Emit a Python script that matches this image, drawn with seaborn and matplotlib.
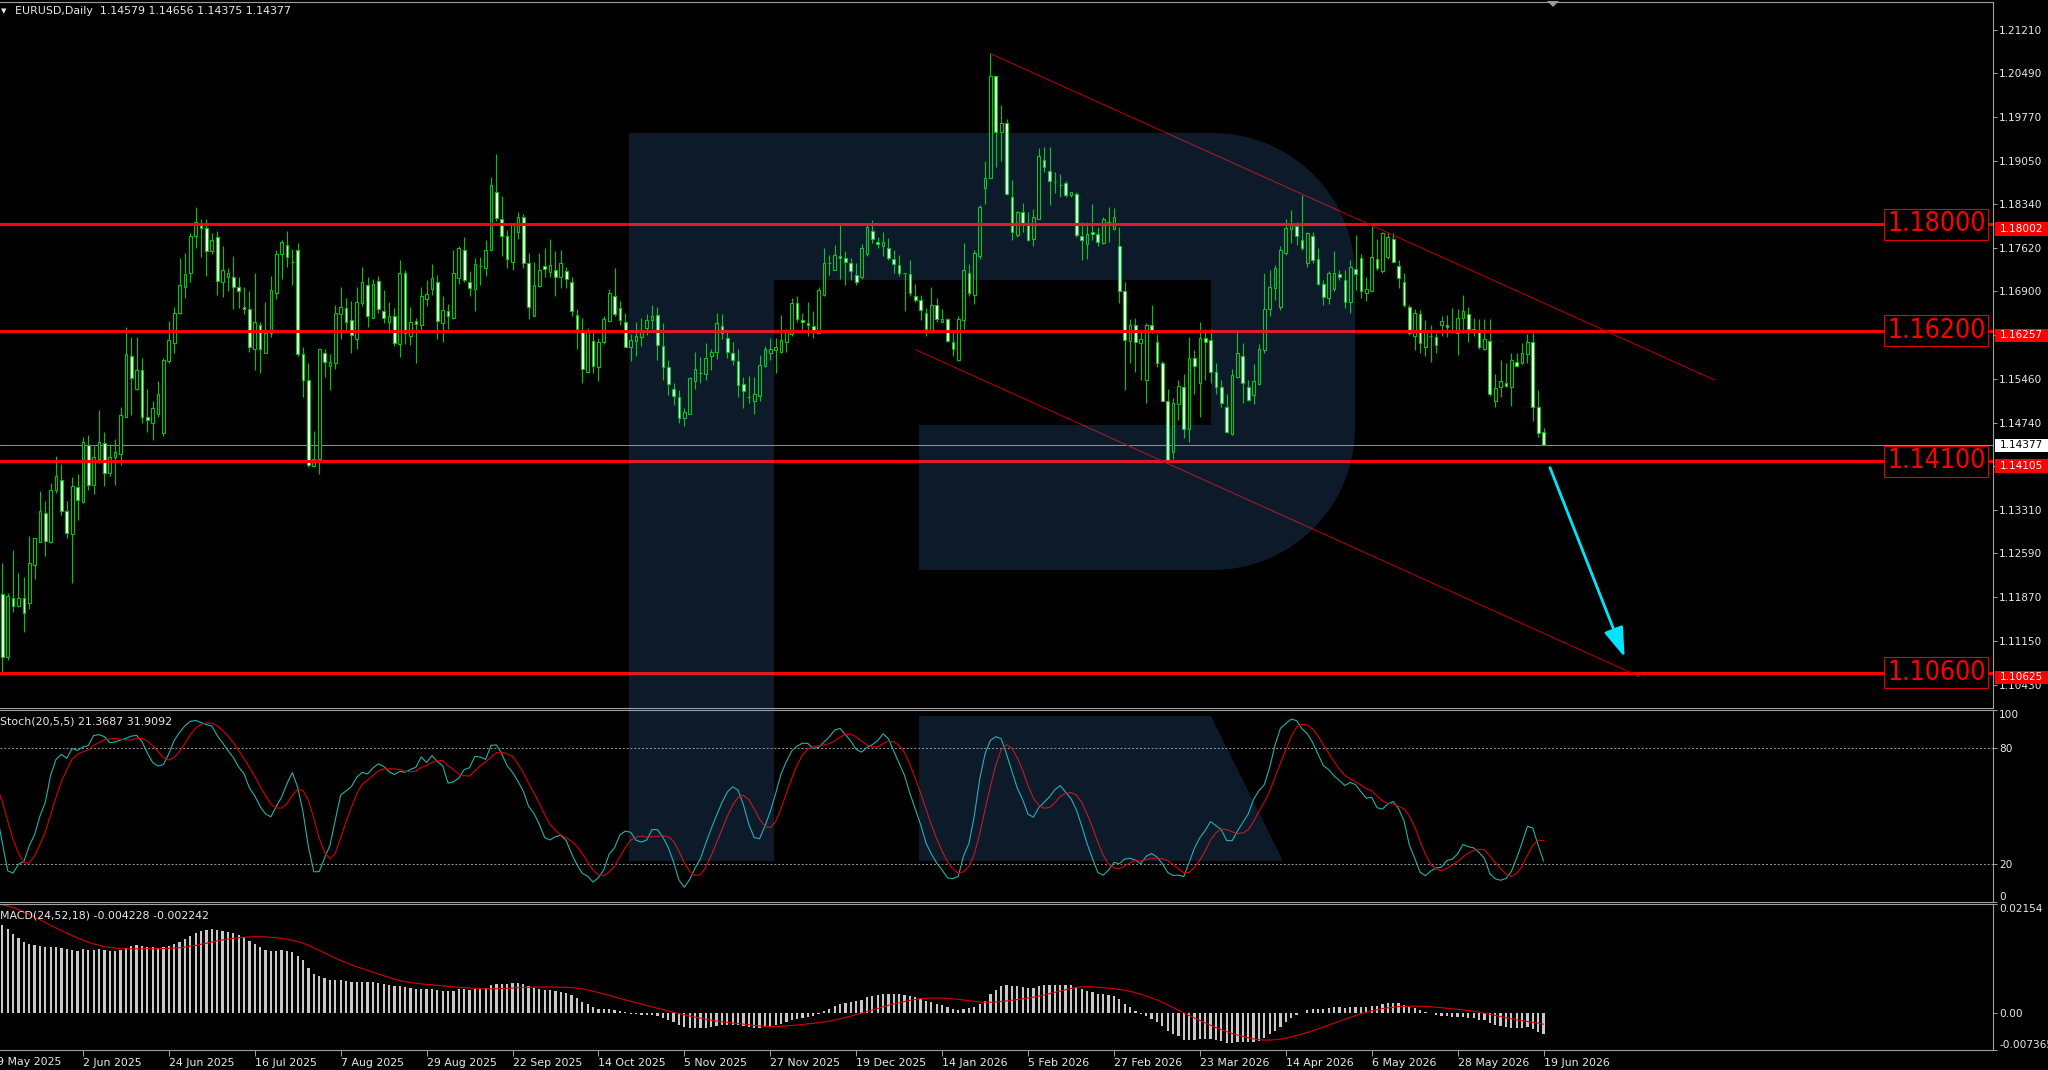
import numpy as np
import pandas as pd
import matplotlib
matplotlib.use("Agg")
import matplotlib.pyplot as plt
import matplotlib.transforms as mtransforms
from matplotlib.patches import Rectangle, Polygon
import seaborn as sns

# ---------------- data (EURUSD daily, bar 0 = 9 May 2025) ----------------
open_ = [1.1228,1.1192,1.1089,1.1185,1.1172,1.1185,1.1177,1.1240,1.1278,1.1325,
1.1277,1.1364,1.1380,1.1328,1.1290,1.1368,1.1343,1.1437,1.1371,1.1414,
1.1441,1.1392,1.1418,1.1422,1.1484,1.1583,1.1529,1.1560,1.1484,1.1473,
1.1489,1.1457,1.1576,1.1605,1.1654,1.1698,1.1721,1.1781,1.1799,1.1795,
1.1756,1.1779,1.1706,1.1714,1.1714,1.1697,1.1665,1.1661,1.1596,1.1634,
1.1589,1.1621,1.1688,1.1752,1.1767,1.1739,1.1758,1.1587,1.1545,1.1402,
1.1414,1.1589,1.1567,1.1572,1.1653,1.1662,1.1643,1.1611,1.1671,1.1701,
1.1647,1.1708,1.1658,1.1640,1.1649,1.1604,1.1720,1.1617,1.1641,1.1634,
1.1677,1.1694,1.1705,1.1638,1.1657,1.1646,1.1712,1.1758,1.1705,1.1694,
1.1732,1.1728,1.1759,1.1853,1.1809,1.1781,1.1738,1.1788,1.1812,1.1737,
1.1650,1.1699,1.1732,1.1722,1.1725,1.1713,1.1724,1.1706,1.1651,1.1624,
1.1557,1.1609,1.1566,1.1606,1.1641,1.1682,1.1663,1.1639,1.1598,1.1609,
1.1615,1.1630,1.1643,1.1652,1.1601,1.1566,1.1529,1.1516,1.1481,1.1489,
1.1543,1.1555,1.1554,1.1583,1.1590,1.1633,1.1614,1.1588,1.1575,1.1537,
1.1516,1.1510,1.1518,1.1567,1.1588,1.1593,1.1591,1.1606,1.1620,1.1671,
1.1643,1.1638,1.1633,1.1622,1.1684,1.1737,1.1726,1.1748,1.1745,1.1737,
1.1717,1.1714,1.1752,1.1790,1.1772,1.1764,1.1761,1.1743,1.1734,1.1720,
1.1718,1.1683,1.1676,1.1654,1.1627,1.1667,1.1640,1.1644,1.1606,1.1577,
1.1643,1.1720,1.1684,1.1748,1.1860,1.1876,1.2045,1.1953,1.1968,1.1846,
1.1783,1.1821,1.1803,1.1776,1.1810,1.1906,1.1889,1.1870,1.1866,1.1868,
1.1849,1.1851,1.1781,1.1768,1.1788,1.1785,1.1770,1.1805,1.1792,1.1765,
1.1690,1.1609,1.1635,1.1605,1.1545,1.1635,1.1607,1.1573,1.1510,1.1425,
1.1504,1.1533,1.1463,1.1580,1.1540,1.1613,1.1610,1.1558,1.1532,1.1500,
1.1455,1.1550,1.1584,1.1532,1.1520,1.1538,1.1593,1.1661,1.1695,1.1664,
1.1754,1.1792,1.1797,1.1775,1.1736,1.1781,1.1743,1.1703,1.1680,1.1694,
1.1718,1.1709,1.1672,1.1727,1.1745,1.1687,1.1691,1.1743,1.1724,1.1746,
1.1777,1.1732,1.1706,1.1665,1.1617,1.1653,1.1599,1.1617,1.1615,1.1635,
1.1635,1.1627,1.1622,1.1647,1.1653,1.1629,1.1624,1.1595,1.1609,1.1509,
1.1532,1.1540,1.1532,1.1574,1.1573,1.1587,1.1606,1.1499,1.14579]

high = [1.1262,1.1243,1.1193,1.1265,1.1227,1.1220,1.1288,1.1285,1.1362,1.1345,
1.1375,1.1419,1.1406,1.1345,1.1384,1.1390,1.1450,1.1454,1.1435,1.1495,
1.1458,1.1439,1.1447,1.1499,1.1631,1.1615,1.1615,1.1580,1.1529,1.1509,
1.1543,1.1580,1.1642,1.1665,1.1745,1.1753,1.1786,1.1829,1.1809,1.1809,
1.1786,1.1790,1.1765,1.1728,1.1748,1.1713,1.1697,1.1691,1.1721,1.1640,
1.1672,1.1715,1.1759,1.1775,1.1790,1.1760,1.1770,1.1598,1.1573,1.1461,
1.1596,1.1595,1.1587,1.1668,1.1698,1.1680,1.1675,1.1697,1.1730,1.1713,
1.1710,1.1715,1.1692,1.1672,1.1662,1.1742,1.1725,1.1664,1.1647,1.1697,
1.1709,1.1735,1.1717,1.1682,1.1669,1.1758,1.1765,1.1779,1.1724,1.1745,
1.1746,1.1775,1.1878,1.1917,1.1847,1.1791,1.1802,1.1820,1.1818,1.1753,
1.1739,1.1754,1.1761,1.1777,1.1757,1.1758,1.1730,1.1714,1.1661,1.1647,
1.1630,1.1629,1.1613,1.1649,1.1694,1.1728,1.1675,1.1655,1.1620,1.1640,
1.1646,1.1653,1.1668,1.1664,1.1638,1.1577,1.1540,1.1527,1.1498,1.1549,
1.1590,1.1582,1.1605,1.1596,1.1655,1.1653,1.1624,1.1607,1.1596,1.1549,
1.1551,1.1549,1.1585,1.1600,1.1613,1.1613,1.1651,1.1629,1.1679,1.1682,
1.1655,1.1672,1.1657,1.1698,1.1761,1.1750,1.1767,1.1803,1.1757,1.1745,
1.1736,1.1768,1.1803,1.1808,1.1780,1.1788,1.1778,1.1758,1.1750,1.1720,
1.1742,1.1702,1.1684,1.1662,1.1698,1.1679,1.1661,1.1647,1.1627,1.1649,
1.1769,1.1735,1.1758,1.1833,1.1905,1.2082,1.2045,1.1997,1.1973,1.1874,
1.1823,1.1836,1.1820,1.1825,1.1926,1.1928,1.1927,1.1887,1.1883,1.1871,
1.1854,1.1853,1.1805,1.1805,1.1834,1.1796,1.1813,1.1829,1.1827,1.1796,
1.1705,1.1644,1.1646,1.1629,1.1638,1.1668,1.1620,1.1575,1.1529,1.1514,
1.1545,1.1554,1.1615,1.1593,1.1639,1.1629,1.1628,1.1572,1.1545,1.1521,
1.1562,1.1626,1.1605,1.1545,1.1571,1.1604,1.1721,1.1725,1.1734,1.1765,
1.1810,1.1824,1.1805,1.1849,1.1788,1.1788,1.1761,1.1709,1.1723,1.1756,
1.1726,1.1725,1.1741,1.1783,1.1752,1.1713,1.1797,1.1777,1.1788,1.1788,
1.1786,1.1741,1.1721,1.1668,1.1661,1.1660,1.1643,1.1635,1.1621,1.1650,
1.1651,1.1662,1.1661,1.1684,1.1664,1.1646,1.1644,1.1644,1.1644,1.1554,
1.1577,1.1573,1.1589,1.1589,1.1605,1.1620,1.1621,1.1528,1.14656]

low = [1.1215,1.1064,1.1083,1.1163,1.1170,1.1130,1.1168,1.1216,1.1278,1.1255,
1.1276,1.1358,1.1322,1.1284,1.1210,1.1313,1.1342,1.1363,1.1357,1.1407,
1.1370,1.1386,1.1372,1.1404,1.1483,1.1487,1.1528,1.1474,1.1459,1.1446,
1.1484,1.1452,1.1572,1.1589,1.1653,1.1680,1.1706,1.1761,1.1746,1.1716,
1.1752,1.1684,1.1681,1.1690,1.1661,1.1662,1.1653,1.1591,1.1561,1.1556,
1.1588,1.1615,1.1677,1.1710,1.1730,1.1701,1.1584,1.1517,1.1401,1.1401,
1.1390,1.1549,1.1527,1.1563,1.1611,1.1627,1.1589,1.1596,1.1666,1.1631,
1.1646,1.1655,1.1638,1.1621,1.1600,1.1582,1.1604,1.1602,1.1573,1.1627,
1.1666,1.1684,1.1611,1.1607,1.1629,1.1644,1.1702,1.1705,1.1682,1.1657,
1.1701,1.1715,1.1756,1.1806,1.1748,1.1728,1.1725,1.1777,1.1728,1.1644,
1.1649,1.1698,1.1713,1.1713,1.1682,1.1696,1.1695,1.1650,1.1596,1.1540,
1.1555,1.1556,1.1542,1.1604,1.1640,1.1650,1.1635,1.1599,1.1576,1.1583,
1.1600,1.1618,1.1628,1.1577,1.1545,1.1520,1.1503,1.1473,1.1468,1.1488,
1.1529,1.1540,1.1545,1.1561,1.1578,1.1611,1.1580,1.1569,1.1517,1.1498,
1.1506,1.1489,1.1509,1.1565,1.1577,1.1555,1.1588,1.1591,1.1617,1.1639,
1.1628,1.1617,1.1613,1.1621,1.1682,1.1717,1.1725,1.1710,1.1701,1.1709,
1.1701,1.1710,1.1748,1.1770,1.1761,1.1748,1.1742,1.1720,1.1715,1.1657,
1.1682,1.1672,1.1643,1.1616,1.1622,1.1640,1.1639,1.1607,1.1583,1.1576,
1.1629,1.1682,1.1669,1.1743,1.1834,1.1876,1.1894,1.1905,1.1849,1.1775,
1.1780,1.1788,1.1773,1.1765,1.1809,1.1887,1.1832,1.1852,1.1846,1.1845,
1.1846,1.1780,1.1741,1.1743,1.1774,1.1765,1.1768,1.1772,1.1791,1.1671,
1.1528,1.1572,1.1558,1.1544,1.1506,1.1621,1.1565,1.1509,1.1408,1.1414,
1.1479,1.1448,1.1443,1.1522,1.1483,1.1544,1.1539,1.1522,1.1500,1.1457,
1.1454,1.1547,1.1507,1.1509,1.1505,1.1536,1.1588,1.1649,1.1676,1.1660,
1.1750,1.1769,1.1766,1.1758,1.1730,1.1736,1.1701,1.1668,1.1669,1.1690,
1.1709,1.1662,1.1654,1.1692,1.1680,1.1675,1.1690,1.1725,1.1721,1.1743,
1.1736,1.1695,1.1665,1.1618,1.1594,1.1589,1.1583,1.1574,1.1588,1.1616,
1.1615,1.1622,1.1586,1.1621,1.1606,1.1617,1.1595,1.1593,1.1518,1.1499,
1.1517,1.1532,1.1501,1.1566,1.1571,1.1573,1.1477,1.1450,1.14375]

close = [1.1250,1.1088,1.1188,1.1173,1.1185,1.1160,1.1243,1.1284,1.1329,1.1279,
1.1364,1.1386,1.1329,1.1292,1.1369,1.1346,1.1442,1.1372,1.1418,1.1443,
1.1392,1.1418,1.1425,1.1487,1.1587,1.1547,1.1561,1.1483,1.1478,1.1498,
1.1521,1.1577,1.1610,1.1654,1.1700,1.1718,1.1781,1.1805,1.1795,1.1757,
1.1774,1.1708,1.1725,1.1720,1.1698,1.1691,1.1661,1.1599,1.1640,1.1595,
1.1621,1.1692,1.1752,1.1771,1.1746,1.1739,1.1587,1.1544,1.1404,1.1414,
1.1595,1.1574,1.1574,1.1655,1.1665,1.1640,1.1618,1.1672,1.1705,1.1649,
1.1702,1.1661,1.1646,1.1650,1.1605,1.1721,1.1621,1.1640,1.1637,1.1682,
1.1686,1.1712,1.1641,1.1660,1.1650,1.1720,1.1761,1.1709,1.1695,1.1735,
1.1732,1.1759,1.1865,1.1811,1.1782,1.1743,1.1799,1.1813,1.1736,1.1664,
1.1701,1.1726,1.1727,1.1733,1.1714,1.1737,1.1710,1.1657,1.1628,1.1562,
1.1624,1.1568,1.1606,1.1644,1.1687,1.1653,1.1643,1.1599,1.1610,1.1617,
1.1627,1.1643,1.1650,1.1602,1.1566,1.1537,1.1518,1.1481,1.1492,1.1547,
1.1563,1.1555,1.1581,1.1590,1.1638,1.1621,1.1590,1.1577,1.1536,1.1526,
1.1516,1.1521,1.1569,1.1596,1.1595,1.1599,1.1610,1.1624,1.1671,1.1644,
1.1640,1.1634,1.1625,1.1692,1.1737,1.1737,1.1750,1.1745,1.1739,1.1724,
1.1706,1.1761,1.1796,1.1776,1.1768,1.1772,1.1745,1.1735,1.1720,1.1720,
1.1687,1.1676,1.1660,1.1629,1.1667,1.1644,1.1644,1.1609,1.1596,1.1644,
1.1725,1.1687,1.1753,1.1829,1.1876,1.2045,1.1952,1.1968,1.1851,1.1788,
1.1821,1.1802,1.1775,1.1812,1.1913,1.1894,1.1871,1.1870,1.1866,1.1849,
1.1853,1.1783,1.1775,1.1785,1.1785,1.1772,1.1809,1.1799,1.1812,1.1690,
1.1610,1.1635,1.1607,1.1611,1.1635,1.1624,1.1572,1.1510,1.1410,1.1506,
1.1534,1.1463,1.1580,1.1567,1.1614,1.1607,1.1558,1.1532,1.1507,1.1459,
1.1553,1.1589,1.1539,1.1512,1.1542,1.1595,1.1661,1.1698,1.1728,1.1758,
1.1794,1.1799,1.1781,1.1761,1.1786,1.1741,1.1703,1.1681,1.1721,1.1720,
1.1713,1.1673,1.1731,1.1719,1.1690,1.1694,1.1746,1.1728,1.1786,1.1779,
1.1739,1.1712,1.1668,1.1622,1.1654,1.1605,1.1626,1.1617,1.1602,1.1642,
1.1631,1.1627,1.1647,1.1657,1.1629,1.1624,1.1598,1.1611,1.1521,1.1531,
1.1542,1.1535,1.1577,1.1567,1.1588,1.1607,1.1499,1.1457,1.14377]

# closes before the first bar on the chart (Jan - 8 May 2025), not drawn;
# only used to start the Stochastic and MACD calculations
warmup_close = [1.0265,1.0307,1.0390,1.0343,1.0317,1.0300,1.0244,1.0244,1.0308,1.0291,
1.0300,1.0272,1.0417,1.0432,1.0409,1.0414,1.0494,1.0493,1.0429,1.0422,
1.0389,1.0362,1.0344,1.0379,1.0403,1.0383,1.0329,1.0307,1.0360,1.0384,
1.0464,1.0493,1.0485,1.0445,1.0424,1.0502,1.0459,1.0465,1.0512,1.0485,
1.0399,1.0375,1.0487,1.0625,1.0790,1.0785,1.0834,1.0833,1.0919,1.0886,
1.0852,1.0880,1.0923,1.0944,1.0901,1.0854,1.0815,1.0802,1.0791,1.0752,
1.0798,1.0830,1.0815,1.0790,1.0852,1.1050,1.0960,1.0908,1.0958,1.0950,
1.1195,1.1360,1.1350,1.1285,1.1398,1.1367,1.1370,1.1514,1.1422,1.1310,
1.1390,1.1366,1.1420,1.1380,1.1330,1.1290,1.1300,1.1315,1.1370,1.1305,
1.1225]

date_tick_bars = [0, 16, 32, 48, 64, 80, 96, 112, 128, 144, 160, 176, 192, 208, 224, 240, 256, 272, 288]
date_tick_labels = ["9 May 2025", "2 Jun 2025", "24 Jun 2025", "16 Jul 2025", "7 Aug 2025",
                    "29 Aug 2025", "22 Sep 2025", "14 Oct 2025", "5 Nov 2025", "27 Nov 2025",
                    "19 Dec 2025", "14 Jan 2026", "5 Feb 2026", "27 Feb 2026", "23 Mar 2026",
                    "14 Apr 2026", "6 May 2026", "28 May 2026", "19 Jun 2026"]
price_ticks = [1.21210, 1.20490, 1.19770, 1.19050, 1.18340, 1.17620, 1.16900, 1.16180,
               1.15460, 1.14740, 1.14020, 1.13310, 1.12590, 1.11870, 1.11150, 1.10430]
level_values = [1.18002, 1.16257, 1.14105, 1.10625]
level_labels = ["1.18000", "1.16200", "1.14100", "1.10600"]
bid_price = 1.14377
trend_upper_bars = [185.1, 319.9]
trend_upper_prices = [1.2081, 1.1544]
trend_lower_bars = [171.1, 305.9]
trend_lower_prices = [1.1594, 1.1056]
arrow_bars = [289.2, 303.1]
arrow_prices = [1.1400, 1.1088]
stoch_ticks = [100, 80, 20, 0]
stoch_levels = [80, 20]
macd_ticks = [0.02154, 0.0, -0.007365]
macd_tick_labels = ["0.02154", "0.00", "-0.007365"]
header_text = "EURUSD,Daily  1.14579 1.14656 1.14375 1.14377"
stoch_text = "Stoch(20,5,5) 21.3687 31.9092"
macd_text = "MACD(24,52,18) -0.004228 -0.002242"

# ---------------- indicators ----------------
c_all = pd.Series(warmup_close + close)
h_all = pd.Series(warmup_close + high)
l_all = pd.Series(warmup_close + low)
nw = len(warmup_close)
ema_f = c_all.ewm(span=24, adjust=False).mean()
ema_s = c_all.ewm(span=52, adjust=False).mean()
macd_all = ema_f - ema_s
macd_sig_all = macd_all.rolling(18).mean()
ll = l_all.rolling(20).min()
hh = h_all.rolling(20).max()
k_all = 100 * (c_all - ll).rolling(5).sum() / (hh - ll).rolling(5).sum()
d_all = k_all.rolling(5).mean()

bars = np.arange(len(close))
df = pd.DataFrame({
    "bar": bars,
    "k": k_all.values[nw:], "d": d_all.values[nw:],
    "macd": macd_all.values[nw:], "sig": macd_sig_all.values[nw:],
})

# ---------------- style ----------------
sns.set_theme(style="dark", rc={"axes.facecolor": "black", "figure.facecolor": "black",
                                "axes.grid": False})
plt.rcParams["font.family"] = ["DejaVu Sans"]

W, H = 2048, 1070
fig = plt.figure(figsize=(W / 100, H / 100), dpi=100, facecolor="black")
ax_p = fig.add_axes([0, 1 - 708 / H, 1993 / W, 706.5 / H])
ax_s = fig.add_axes([0, 1 - 902 / H, 1993 / W, 192 / H])
ax_m = fig.add_axes([0, 1 - 1050 / H, 1993 / W, 146 / H])

GRAY = "#a0a0a0"
TXT = "#e8e8e8"
GREEN = "#00c800"
XL = (0.559, 371.7)
PMIN, PMAX = 1.10044, 1.21672
SMALL = 7.9

for ax in (ax_p, ax_s, ax_m):
    ax.set_facecolor("black")
    ax.set_xlim(*XL)
    ax.spines["left"].set_visible(False)
    for s in ("right", "top", "bottom"):
        ax.spines[s].set_color(GRAY)
        ax.spines[s].set_linewidth(0.8)
    ax.yaxis.tick_right()
    ax.tick_params(axis="y", direction="out", length=3, width=0.7, color=GRAY,
                   labelcolor=TXT, labelsize=7.6, pad=1.5)
    ax.tick_params(axis="x", bottom=False, labelbottom=False)
    ax.set_xlabel("")
    ax.set_ylabel("")

# ---------------- price pane ----------------
o = np.array(open_); c = np.array(close); h = np.array(high); l = np.array(low)
up = c >= o
ax_p.vlines(bars, l, h, color=GREEN, linewidth=0.8, zorder=2)
ax_p.bar(bars, np.abs(c - o), bottom=np.minimum(o, c), width=0.5,
         color=np.where(up, "black", "white"), edgecolor=GREEN, linewidth=0.8, zorder=3)
ax_p.set_ylim(PMIN, PMAX)
ax_p.set_yticks(price_ticks)
ax_p.set_yticklabels([f"{v:.5f}" for v in price_ticks])

ax_p.axhline(bid_price, color="#8c8c8c", linewidth=0.75, zorder=1.5)
for v in level_values:
    ax_p.axhline(v, color="#ff0000", linewidth=2.2, zorder=4)

ax_p.plot(trend_upper_bars, trend_upper_prices, color="#b00000", linewidth=0.8, zorder=5)
ax_p.plot(trend_lower_bars, trend_lower_prices, color="#b00000", linewidth=0.8, zorder=5)
ax_p.annotate("", xy=(arrow_bars[1], arrow_prices[1]), xytext=(arrow_bars[0], arrow_prices[0]),
              arrowprops=dict(arrowstyle="-|>,head_length=1.5,head_width=0.5", color="#00e5ff",
                              lw=2.0, shrinkA=0, shrinkB=0), zorder=7, annotation_clip=False)

tr_p = mtransforms.blended_transform_factory(ax_p.transAxes, ax_p.transData)
ppu = 706.5 / (PMAX - PMIN)
for v, lab in zip(level_values, level_labels):
    ax_p.text(0.9963, v, lab, transform=tr_p, ha="right", va="center", fontsize=19,
              fontstretch="condensed", color="#ff0000", zorder=6,
              bbox=dict(boxstyle="square,pad=0.1", fc="black", ec="#e00000", lw=0.8))
    ax_p.add_patch(Rectangle((1.0008, v - 11.5 / ppu), 0.03, 13.5 / ppu, transform=tr_p,
                             facecolor="#ff0000", edgecolor="none", clip_on=False, zorder=8))
    ax_p.text(1.0032, v - 4.75 / ppu, f"{v:.5f}", transform=tr_p, ha="left", va="center",
              fontsize=7.6, color="white", clip_on=False, zorder=9)
ax_p.add_patch(Rectangle((1.0008, bid_price - 6.8 / ppu), 0.03, 13 / ppu, transform=tr_p,
                         facecolor="white", edgecolor="none", clip_on=False, zorder=8))
ax_p.text(1.0032, bid_price, f"{bid_price:.5f}", transform=tr_p, ha="left", va="center",
          fontsize=7.6, color="black", clip_on=False, zorder=9)

# ---------------- stochastic pane ----------------
for lv in stoch_levels:
    ax_s.axhline(lv, color="#9a9a9a", linewidth=0.7, linestyle=(0, (2, 2)), zorder=1)
sns.lineplot(data=df, x="bar", y="k", ax=ax_s, color="#20b2aa", linewidth=0.8,
             legend=False, errorbar=None)
sns.lineplot(data=df, x="bar", y="d", ax=ax_s, color="#d80000", linewidth=0.8,
             legend=False, errorbar=None)
ax_s.set_ylim(0, 100)
ax_s.set_xlim(*XL)
ax_s.set_yticks(stoch_ticks)
ax_s.set_yticklabels([str(t) for t in stoch_ticks])
sl = ax_s.get_yticklabels()
sl[0].set_va("top"); sl[-1].set_va("bottom")
ax_s.set_xlabel(""); ax_s.set_ylabel("")

# ---------------- MACD pane ----------------
ax_m.bar(df["bar"], df["macd"], width=0.42, color="#c8c8c8", linewidth=0, zorder=2)
sns.lineplot(data=df, x="bar", y="sig", ax=ax_m, color="#d80000", linewidth=0.8,
             legend=False, errorbar=None)
ax_m.set_ylim(-0.007365, 0.02154)
ax_m.set_xlim(*XL)
ax_m.set_yticks(macd_ticks)
ax_m.set_yticklabels(macd_tick_labels)
ml = ax_m.get_yticklabels()
ml[0].set_va("top"); ml[-1].set_va("bottom")
ax_m.set_xlabel(""); ax_m.set_ylabel("")
ax_m.set_xticks(date_tick_bars[1:])
ax_m.set_xticklabels(date_tick_labels[1:])
ax_m.tick_params(axis="x", bottom=True, labelbottom=True, direction="out", length=4,
                 width=0.7, color=GRAY, labelcolor=TXT, labelsize=SMALL, pad=1.5)
for t in ax_m.get_xticklabels():
    t.set_ha("left")
tr_m = mtransforms.blended_transform_factory(ax_m.transData, ax_m.transAxes)
ax_m.text(date_tick_bars[0], -0.048, date_tick_labels[0], transform=tr_m, ha="left", va="top",
          fontsize=SMALL, color=TXT, clip_on=False)

# ---------------- texts ----------------
fig.text(0.5 / W, 1 - 11 / H, "\u25bc", fontsize=5, color=TXT, va="center", ha="left")
fig.text(15 / W, 1 - 11 / H, header_text, fontsize=SMALL, color=TXT, va="center", ha="left")
fig.text(0.5 / W, 1 - 721 / H, stoch_text, fontsize=SMALL, color=TXT, va="center", ha="left")
fig.text(0.5 / W, 1 - 915 / H, macd_text, fontsize=SMALL, color=TXT, va="center", ha="left")

# ---------------- watermark overlay (decoration) ----------------
ax_o = fig.add_axes([0, 0, 1, 1], zorder=3)
ax_o.set_xlim(0, W); ax_o.set_ylim(H, 0); ax_o.axis("off"); ax_o.patch.set_alpha(0)
r = 142
t1 = np.linspace(-np.pi / 2, 0, 24)
t2 = np.linspace(0, np.pi / 2, 24)
arc1 = np.column_stack([1213 + r * np.cos(t1), 275 + r * np.sin(t1)])
arc2 = np.column_stack([1213 + r * np.cos(t2), 428 + r * np.sin(t2)])
p_shape = np.vstack([[[629, 133]], arc1, arc2,
                     [[919, 570], [919, 425], [1211, 425], [1211, 280], [774, 280],
                      [774, 861], [629, 861]]])
wm = dict(facecolor="#4c9ff7", edgecolor="none", alpha=0.17)
ax_o.add_patch(Polygon(p_shape, closed=True, **wm))
ax_o.add_patch(Polygon([[919, 716], [1211, 716], [1283, 861], [919, 861]], closed=True, **wm))
ax_o.add_patch(Polygon([[1547, 1], [1559, 1], [1553, 7]], closed=True, facecolor="#9a9a9a",
                       edgecolor="none"))

fig.savefig("out.png", dpi=100, facecolor="black")
